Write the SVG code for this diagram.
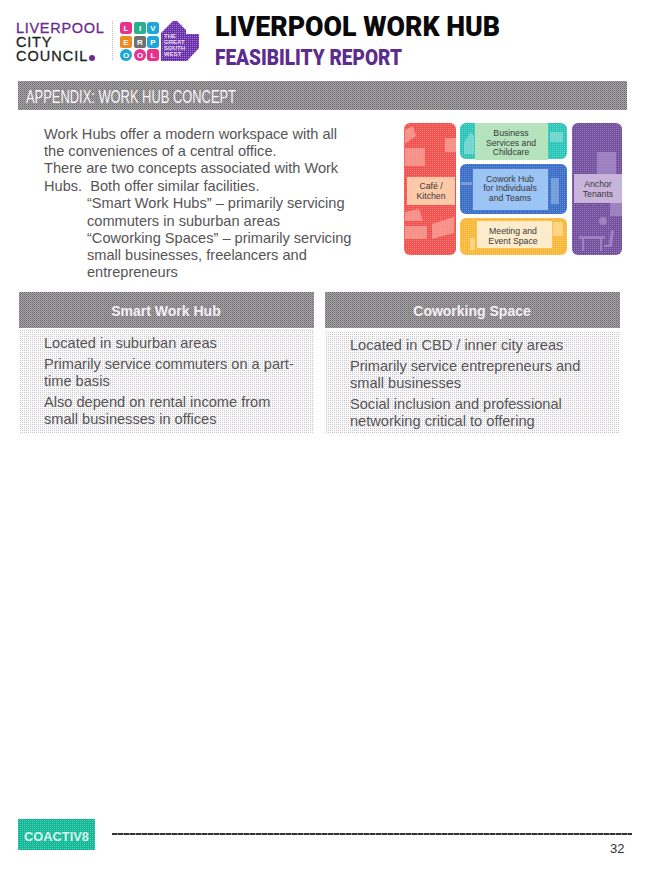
<svg xmlns="http://www.w3.org/2000/svg" width="652" height="869" viewBox="0 0 652 869">
<style>
text{font-family:"Liberation Sans",Arial,sans-serif}
.body{font-size:14.600px;fill:#565456}
.tile{font-size:8.700px;fill:#3a3a3a;text-anchor:middle}
.hd{font-size:14px;font-weight:700;fill:#f4f1f6;text-anchor:middle}
.logo{font-size:14.500px;stroke-width:.3px}
.ttl{font-family:Roboto,sans-serif;font-weight:900}
.sq{font-size:8px;font-weight:700;fill:#fff;text-anchor:middle}
.gsw{font-size:6px;font-weight:700;fill:#e8def0}
</style>
<defs>
<pattern id="g" width="2" height="2" patternUnits="userSpaceOnUse"><rect width="2" height="2" fill="#a8a6a8"/><rect width="1" height="1" fill="#696569"/><rect x="1" y="1" width="1" height="1" fill="#858285"/></pattern>
<pattern id="l" width="2" height="2" patternUnits="userSpaceOnUse"><rect width="2" height="2" fill="#fff"/><rect width="1" height="1" fill="#c9c6cb"/><rect x="1" y="1" width="1" height="1" fill="#f6f4f6"/></pattern>
<pattern id="t" width="2" height="2" patternUnits="userSpaceOnUse"><rect width="2" height="2" fill="#14b897"/><rect width="1" height="1" fill="#4dd0b4"/></pattern>
<pattern id="p" width="2" height="2" patternUnits="userSpaceOnUse"><rect width="2" height="2" fill="#6a2fa8"/><rect width="1" height="1" fill="#a07fd0"/></pattern>
<pattern id="rr" width="2" height="2" patternUnits="userSpaceOnUse"><rect width="2" height="2" fill="#f4504e"/><rect width="1" height="1" fill="#f87f7a"/></pattern>
<pattern id="tq" width="2" height="2" patternUnits="userSpaceOnUse"><rect width="2" height="2" fill="#2cc4b6"/><rect width="1" height="1" fill="#5cd8cc"/></pattern>
<pattern id="bl" width="2" height="2" patternUnits="userSpaceOnUse"><rect width="2" height="2" fill="#3f6fc4"/><rect width="1" height="1" fill="#5f8fdc"/></pattern>
<pattern id="ye" width="2" height="2" patternUnits="userSpaceOnUse"><rect width="2" height="2" fill="#fdb537"/><rect width="1" height="1" fill="#ffcf6a"/></pattern>
<pattern id="pu" width="2" height="2" patternUnits="userSpaceOnUse"><rect width="2" height="2" fill="#75509f"/><rect width="1" height="1" fill="#9478b8"/></pattern>
</defs>

<g id="logo-council">
<text class="logo" fill="#222" stroke="#222"><tspan x="16" y="33" fill="#6a2c91" stroke="#6a2c91" letter-spacing=".7">LIVERPOOL</tspan><tspan x="16" y="47" letter-spacing=".8">CITY</tspan><tspan x="16" y="61" letter-spacing="1">COUNCIL</tspan></text>
<circle cx="92" cy="58" r="3" fill="#6a2c91"/>
<line x1="112.500" y1="21" x2="112.500" y2="61" stroke="#bbb" stroke-dasharray="1 1"/>
</g>
<g id="logo-gsw">
<rect x="120" y="22" width="12" height="12" rx="3" fill="#e8308c"/><text class="sq" x="126" y="31">L</text>
<rect x="134" y="22" width="12" height="12" rx="2" fill="#2fae8e"/><text class="sq" x="140" y="31">I</text>
<rect x="147" y="22" width="12" height="12" rx="3" fill="#1ea6d8"/><text class="sq" x="153" y="31">V</text>
<rect x="120" y="36" width="12" height="12" rx="2" fill="#f08a20"/><text class="sq" x="126" y="45">E</text>
<rect x="134" y="36" width="12" height="12" rx="2" fill="#707070"/><text class="sq" x="140" y="45">R</text>
<rect x="147" y="36" width="12" height="12" rx="3" fill="#1ea6d8"/><text class="sq" x="153" y="45">P</text>
<circle cx="126" cy="55" r="6" fill="#1ea6d8"/><text class="sq" x="126" y="58">O</text>
<circle cx="140" cy="55" r="6" fill="#e8308c"/><text class="sq" x="140" y="58">O</text>
<rect x="147" y="49" width="12" height="12" rx="3" fill="#e8308c"/><text class="sq" x="153" y="58">L</text>
<path d="M161 33 L173 21 L177 21 L186 30 L186 34 L199 34 L199 48 L187 61 L161 61 Z" fill="url(#p)"/>
<text class="gsw"><tspan x="164" y="38">THE</tspan><tspan x="164" y="44">GREAT</tspan><tspan x="164" y="50">SOUTH</tspan><tspan x="164" y="56">WEST</tspan></text>
</g>
<g id="title">
<text class="ttl" x="215" y="36" font-size="27" fill="#0a0a0a" textLength="285" lengthAdjust="spacingAndGlyphs">LIVERPOOL WORK HUB</text>
<text class="ttl" x="215" y="65" font-size="22" fill="#5c2d8c" textLength="187" lengthAdjust="spacingAndGlyphs">FEASIBILITY REPORT</text>
</g>
<g id="appendix-band">
<rect x="18" y="81" width="609" height="29" fill="url(#g)"/>
<text x="26" y="103" font-family="Open Sans" font-size="18" fill="#f6f6f6" textLength="210" lengthAdjust="spacingAndGlyphs">APPENDIX: WORK HUB CONCEPT</text>
</g>
<g id="intro">
<text class="body" x="44" y="139">Work Hubs offer a modern workspace with all</text>
<text class="body" x="44" y="156">the conveniences of a central office.</text>
<text class="body" x="44" y="173">There are two concepts associated with Work</text>
<text class="body" x="44" y="191" xml:space="preserve">Hubs.  Both offer similar facilities.</text>
<text class="body" x="87" y="208">“Smart Work Hubs” – primarily servicing</text>
<text class="body" x="87" y="226">commuters in suburban areas</text>
<text class="body" x="87" y="243">“Coworking Spaces” – primarily servicing</text>
<text class="body" x="87" y="260">small businesses, freelancers and</text>
<text class="body" x="87" y="277">entrepreneurs</text>
</g>
<g id="concept-tiles">
<rect x="404" y="123" width="52" height="132" rx="6" fill="url(#rr)"/>
<g fill="#f8a79c" opacity=".75"><path d="M405 148h20v18h-20zM405 130l8-4 3 10-11 8zM445 138h11v14h-11zM405 212l14-3 4 12h-18zM405 226h22v13h-22zM432 224l22-7v16l-22 6z"/></g>
<rect x="407" y="177" width="48" height="28" fill="#fdc9a8"/>
<text class="tile" x="431" y="189">Café /</text><text class="tile" x="431" y="199">Kitchen</text>
<rect x="460" y="123" width="107" height="36" rx="6" fill="url(#tq)"/>
<g fill="#8ee0d8" opacity=".7"><path d="M464 154v-12l7-10 3 4v18zM550 132h13v10h-13z"/></g>
<rect x="475" y="123" width="73" height="37" fill="#b5e3bd"/>
<text class="tile" x="511" y="136">Business</text><text class="tile" x="511" y="146">Services and</text><text class="tile" x="511" y="155">Childcare</text>
<rect x="460" y="164" width="107" height="50" rx="6" fill="url(#bl)"/>
<g fill="#8cb0e4" opacity=".7"><path d="M461 182h11v3h-11zM551 178h8v26h-8z"/></g>
<rect x="473" y="169" width="75" height="41" fill="#9cc4f5"/>
<text class="tile" x="510" y="182">Cowork Hub</text><text class="tile" x="510" y="191">for Individuals</text><text class="tile" x="510" y="201">and Teams</text>
<rect x="460" y="218" width="107" height="37" rx="6" fill="url(#ye)"/>
<g fill="#ffe0a0" opacity=".7"><path d="M470 238h5v12h-5zM553 222h10v14h-10z"/></g>
<rect x="477" y="221" width="75" height="27" fill="#fdeccb"/>
<text class="tile" x="513" y="234">Meeting and</text><text class="tile" x="513" y="244">Event Space</text>
<rect x="572" y="123" width="50" height="132" rx="6" fill="url(#pu)"/>
<g fill="#a78cc8" opacity=".8"><path d="M597 152h19v22h-19zM610 203h12v13h-12zM579 236h26v3h-26zM582 239h2v12h-2zM600 239h2v12h-2zM611 230l3 1-2 14h-3zM604 245h8v2h-8z"/><circle cx="603" cy="221" r="4"/></g>
<rect x="574" y="174" width="48" height="29" fill="#c9b4dc"/>
<text class="tile" x="598" y="187">Anchor</text><text class="tile" x="598" y="197">Tenants</text>
</g>
<g id="smart-work-hub">
<rect x="19" y="329" width="295" height="104" fill="url(#l)"/>
<rect x="19" y="292" width="295" height="36" fill="url(#g)"/>
<text class="hd" x="166" y="316">Smart Work Hub</text>
<text class="body" x="44" y="348">Located in suburban areas</text>
<text class="body" x="44" y="369">Primarily service commuters on a part-</text>
<text class="body" x="44" y="386">time basis</text>
<text class="body" x="44" y="407">Also depend on rental income from</text>
<text class="body" x="44" y="424">small businesses in offices</text>
</g>
<g id="coworking-space">
<rect x="325" y="331" width="295" height="103" fill="url(#l)"/>
<rect x="325" y="292" width="295" height="36" fill="url(#g)"/>
<text class="hd" x="472" y="316">Coworking Space</text>
<text class="body" x="350" y="350">Located in CBD / inner city areas</text>
<text class="body" x="350" y="371">Primarily service entrepreneurs and</text>
<text class="body" x="350" y="388">small businesses</text>
<text class="body" x="350" y="409">Social inclusion and professional</text>
<text class="body" x="350" y="426">networking critical to offering</text>
</g>
<g id="footer">
<rect x="18" y="819" width="77" height="31" fill="url(#t)"/>
<text x="24" y="841" font-size="12.500" font-weight="700" fill="#d8f4ec" textLength="65" lengthAdjust="spacingAndGlyphs">COACTIV8</text>
<line x1="112" y1="834" x2="632" y2="834" stroke="#6a6a6a" stroke-width="1.500"/>
<line x1="112" y1="834" x2="632" y2="834" stroke="#333" stroke-width="2" stroke-dasharray="5 1"/>
<text x="610" y="853" font-size="13" fill="#333">32</text>
</g>
</svg>
